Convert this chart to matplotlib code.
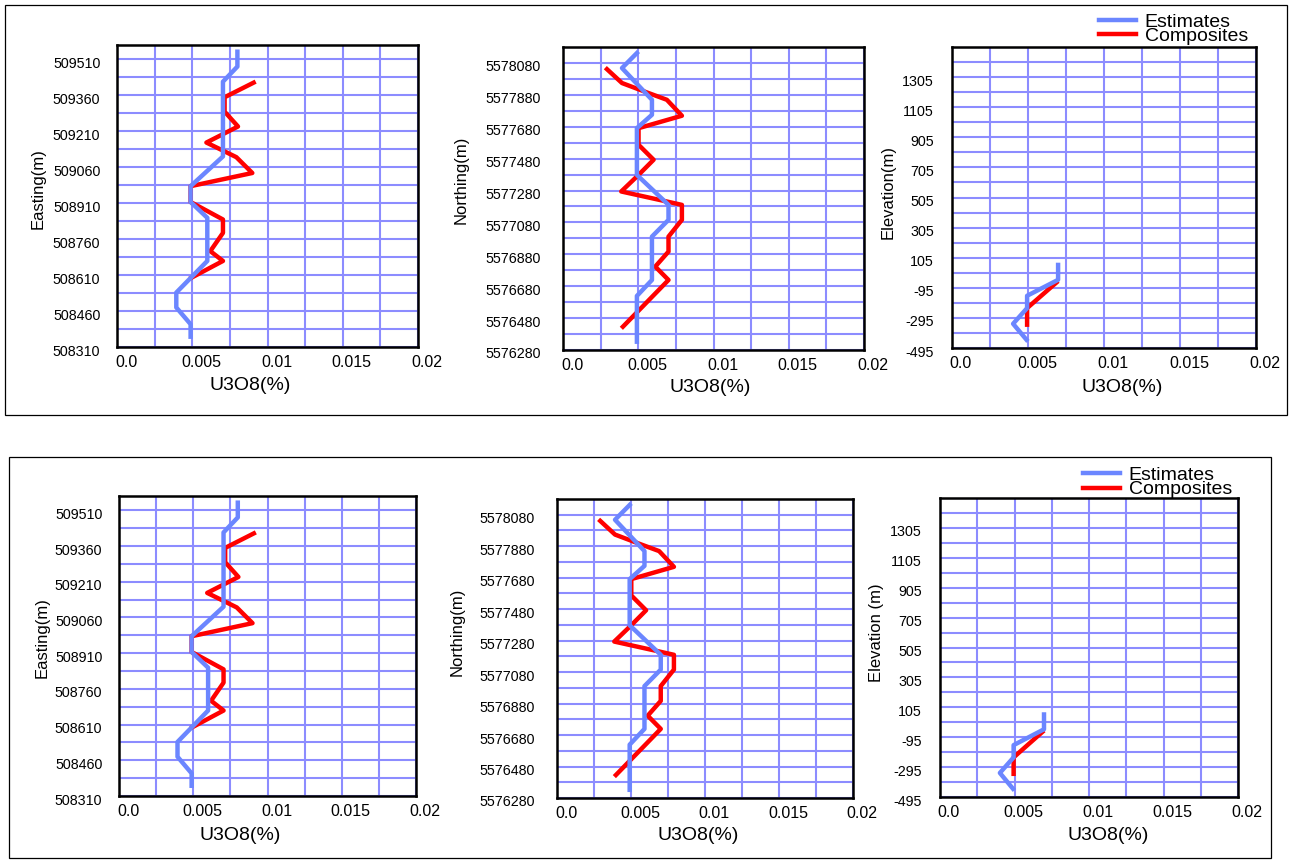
import matplotlib.pyplot as plt
import matplotlib.transforms as mtransforms
from matplotlib.patches import Rectangle
import numpy as np

plt.rcParams['font.family'] = ['Liberation Sans', 'DejaVu Sans']

# data (U3O8 %, coordinate)
easting_est_u = [0.0080, 0.0080, 0.00704, 0.00704, 0.00489, 0.00489, 0.0060, 0.0060,
                 0.00394, 0.00394, 0.00489, 0.00489]
easting_est_y = [509542, 509480, 509417, 509105, 508981, 508915, 508849, 508669,
                 508537, 508475, 508405, 508353]
easting_comp_u = [0.00908, 0.00715, 0.00715, 0.00804, 0.00594, 0.00715, 0.00793, 0.00899,
                  0.00489, 0.00489, 0.00704, 0.00704, 0.0062, 0.00704, 0.00494]
easting_comp_y = [509413, 509352, 509292, 509230, 509163, 509126, 509102, 509036,
                  508981, 508915, 508842, 508786, 508710, 508669, 508599]

northing_est_u = [0.00491, 0.00392, 0.00591, 0.00591, 0.00491, 0.00491, 0.00701, 0.00701,
                  0.00591, 0.00591, 0.00491, 0.00491]
northing_est_y = [5578142, 5578048, 5577849, 5577755, 5577671, 5577378, 5577190, 5577096,
                  5576991, 5576719, 5576619, 5576332]
northing_comp_u = [0.00292, 0.00392, 0.00569, 0.0069, 0.0079, 0.00502, 0.00502, 0.00602,
                   0.00502, 0.00387, 0.0069, 0.0079, 0.0079, 0.00701, 0.00701, 0.00613,
                   0.00701, 0.00398]
northing_comp_y = [5578041, 5577954, 5577891, 5577849, 5577749, 5577671, 5577567, 5577473,
                   5577378, 5577274, 5577211, 5577190, 5577096, 5576991, 5576897, 5576803,
                   5576719, 5576426]

elev_est_u = [0.00698, 0.00698, 0.00494, 0.00494, 0.00402, 0.0049]
elev_est_y = [57, -42, -148, -230, -334, -440]
elev_comp_u = [0.00687, 0.00494, 0.00494]
elev_comp_y = [-60, -230, -340]

x_ticks = [0.0, 0.005, 0.01, 0.015, 0.02]
x_tick_labels = ['0.0', '0.005', '0.01', '0.015', '0.02']

W, H = 1291, 861
fig = plt.figure(figsize=(W / 100, H / 100), dpi=100)


def rect(l, r, t, b):
    return [l / W, 1 - b / H, (r - l) / W, (b - t) / H]


grid_col = '#8c8cff'
est_col = '#6b86ff'
comp_col = '#ff0000'

# frames around the two chart groups
for (x0, y0, x1, y1) in [(5, 5, 1287, 415), (9, 457, 1271, 858)]:
    fig.add_artist(Rectangle((x0 / W, 1 - y1 / H), (x1 - x0) / W, (y1 - y0) / H,
                             transform=fig.transFigure, fill=False, ec='black', lw=0.9))

panels = [
    # name, u est, y est, u comp, y comp, ymin, ymax, grid step, label step
    ('Easting(m)', easting_est_u, easting_est_y, easting_comp_u, easting_comp_y,
     508310, 509570, 75, 150),
    ('Northing(m)', northing_est_u, northing_est_y, northing_comp_u, northing_comp_y,
     5576280, 5578180, 100, 200),
    ('Elevation(m)', elev_est_u, elev_est_y, elev_comp_u, elev_comp_y,
     -495, 1505, 100, 200),
]

rows = [
    {'rects': [(117, 418, 45, 347), (563, 864, 47, 350), (952, 1256, 47, 348)],
     'ylab': [(38, 189), (461, 180), (888, 192)],
     'xlab': [(250, 385), (710, 387), (1122, 387)],
     'ypad': [12, 16, 13],
     'elev_name': 'Elevation(m)',
     'legend': (1099, 13)},
    {'rects': [(119, 416, 496, 796), (557, 853, 499, 798), (940, 1238, 498, 797)],
     'ylab': [(42, 638), (457, 632), (877, 633)],
     'xlab': [(240, 836), (698, 836), (1108, 836)],
     'ypad': [12, 16, 13],
     'elev_name': 'Elevation (m)',
     'legend': (1083, 466)},
]

yshift = mtransforms.ScaledTranslation(0, -0.03, fig.dpi_scale_trans)
xshift = mtransforms.ScaledTranslation(0.09, 0, fig.dpi_scale_trans)

for row in rows:
    for i, p in enumerate(panels):
        name, ue, ye, uc, yc, ymin, ymax, gstep, lstep = p
        if i == 2:
            name = row['elev_name']
        ax = fig.add_axes(rect(*row['rects'][i]))
        ax.set_xlim(0, 0.02)
        ax.set_ylim(ymin, ymax)
        ax.set_xticks(np.arange(0, 0.02001, 0.0025), minor=True)
        ax.set_xticks(x_ticks)
        ax.set_xticklabels(x_tick_labels, fontsize=11.5)
        ax.set_yticks(np.arange(ymin, ymax + 1, gstep), minor=True)
        ax.set_yticks(np.arange(ymin, ymax, lstep))
        ax.set_yticklabels([str(v) for v in np.arange(ymin, ymax, lstep)], fontsize=10.3)
        ax.grid(True, which='both', color=grid_col, lw=1.5)
        ax.set_axisbelow(True)
        ax.tick_params(which='both', length=0)
        ax.tick_params(axis='x', pad=6)
        ax.tick_params(axis='y', pad=row['ypad'][i])
        for lab in ax.get_yticklabels():
            lab.set_transform(lab.get_transform() + yshift)
        for lab in ax.get_xticklabels():
            lab.set_transform(lab.get_transform() + xshift)
        for s in ax.spines.values():
            s.set_linewidth(1.8)
        l1, = ax.plot(ue, ye, color=est_col, lw=3.2, label='Estimates')
        l2, = ax.plot(uc, yc, color=comp_col, lw=3.2, label='Composites')
        l1.set_zorder(3)
        l2.set_zorder(2)
        lx, ly = row['ylab'][i]
        fig.text(lx / W, 1 - ly / H, name, rotation=90, ha='center', va='center',
                 fontsize=12)
        xx, xy = row['xlab'][i]
        fig.text(xx / W, 1 - xy / H, 'U3O8(%)', ha='center', va='center', fontsize=14)
        if i == 2:
            lgx, lgy = row['legend']
            fig.legend(handles=[l1, l2], loc='upper left',
                       bbox_to_anchor=(lgx / W, 1 - lgy / H), frameon=False,
                       fontsize=14, handlelength=1.9, handletextpad=0.45,
                       labelspacing=-0.15, borderpad=0, borderaxespad=0)

fig.savefig('out.png', dpi=100)
